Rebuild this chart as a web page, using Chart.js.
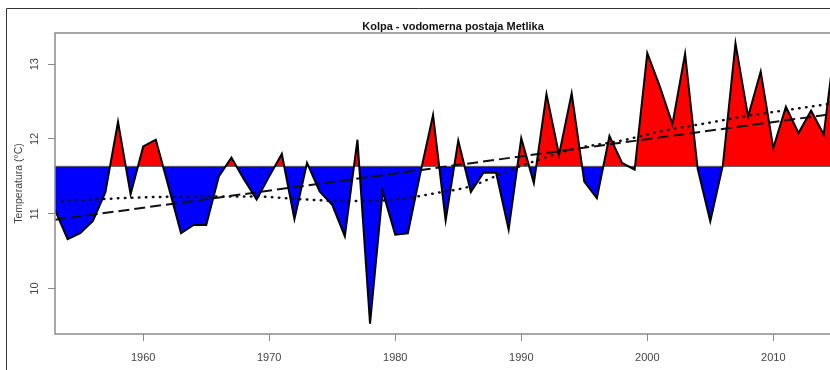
<!DOCTYPE html>
<html>
<head>
<meta charset="utf-8">
<script src="https://cdn.jsdelivr.net/npm/chart.js@4.4.1/dist/chart.umd.min.js"></script>
<style>
html,body{margin:0;padding:0;background:#fff;overflow:hidden;}
#wrap{width:830px;height:370px;position:relative;}
</style>
</head>
<body>
<div id="wrap"><canvas id="c" width="830" height="370"></canvas></div>
<script>
// ---- data ----
const years = [1953,1954,1955,1956,1957,1958,1959,1960,1961,1962,1963,1964,1965,1966,1967,1968,1969,1970,
  1971,1972,1973,1974,1975,1976,1977,1978,1979,1980,1981,1982,1983,1984,1985,1986,1987,1988,1989,1990,
  1991,1992,1993,1994,1995,1996,1997,1998,1999,2000,2001,2002,2003,2004,2005,2006,2007,2008,2009,2010,
  2011,2012,2013,2014,2015];
const temps = [11.05,10.66,10.74,10.90,11.29,12.23,11.26,11.90,11.99,11.37,10.74,10.85,10.85,11.50,11.75,11.46,11.19,11.50,
  11.80,10.93,11.68,11.30,11.12,10.70,11.99,9.53,11.30,10.72,10.74,11.55,12.32,10.91,11.98,11.29,11.55,11.55,10.79,12.01,
  11.41,12.60,11.79,12.61,11.43,11.21,12.04,11.68,11.59,13.15,12.70,12.20,13.14,11.60,10.90,11.65,13.28,12.30,12.90,11.88,
  12.43,12.08,12.38,12.06,13.40];
const baseline = 11.634;
const linTrendYears = [1953, 2014.5];
const linTrendValues = [10.92, 12.33];
const smoothYears = [1953,1956,1960,1965,1969,1972,1976,1980,1983,1986,1989,1991,1994,1998,2001,2005,2008,2012,2014.5];
const smoothValues = [11.16,11.19,11.22,11.23,11.23,11.20,11.17,11.19,11.27,11.37,11.58,11.70,11.86,11.98,12.10,12.22,12.31,12.41,12.47];
const xTicks = [1960,1970,1980,1990,2000,2010];
const yTicks = [10,11,12,13];
const titleText = 'Kolpa - vodomerna postaja Metlika';
const yLabel = 'Temperatura (°C)';
const xMin = 1953, xMax = 2014.5, yMin = 9.393, yMax = 13.417;

const pts = (xs, ys) => xs.map((x, i) => ({x: x, y: ys[i]}));

const framePlugin = {
  id: 'frame',
  beforeDraw(chart) {
    const ctx = chart.ctx;
    ctx.save();
    ctx.fillStyle = '#fff';
    ctx.fillRect(0, 0, chart.width, chart.height);
    ctx.strokeStyle = '#333';
    ctx.lineWidth = 1;
    ctx.beginPath();
    ctx.moveTo(6.5, 370);
    ctx.lineTo(6.5, 8.5);
    ctx.lineTo(830, 8.5);
    ctx.stroke();
    ctx.restore();
  },
  afterDraw(chart) {
    const ctx = chart.ctx, a = chart.chartArea;
    ctx.save();
    ctx.strokeStyle = '#8a8a8a';
    ctx.lineWidth = 1.5;
    ctx.strokeRect(a.left, a.top, a.right - a.left + 4, a.bottom - a.top);
    ctx.fillStyle = '#111';
    ctx.font = 'bold 11px "Liberation Sans", Arial, sans-serif';
    ctx.textAlign = 'center';
    ctx.textBaseline = 'alphabetic';
    ctx.fillText(titleText, 453, 30);
    ctx.restore();
  }
};

new Chart(document.getElementById('c'), {
  type: 'line',
  data: {
    datasets: [
      {
        label: 'temp',
        data: pts(years, temps),
        borderColor: '#000',
        borderWidth: 2,
        pointRadius: 0,
        tension: 0,
        fill: {target: {value: baseline}, above: 'rgb(255,0,0)', below: 'rgb(0,0,255)'},
        order: 0
      },
      {
        label: 'base',
        data: pts([xMin, xMax + 2], [baseline, baseline]),
        borderColor: '#555',
        borderWidth: 1,
        pointRadius: 0,
        fill: false,
        order: 3
      },
      {
        label: 'linear',
        data: pts(linTrendYears, linTrendValues),
        borderColor: '#111',
        borderWidth: 2,
        borderDash: [11, 5],
        pointRadius: 0,
        fill: false,
        order: 2
      },
      {
        label: 'smooth',
        data: pts(smoothYears, smoothValues),
        borderColor: '#111',
        borderWidth: 2.5,
        borderDash: [0.5, 6.5],
        borderCapStyle: 'round',
        cubicInterpolationMode: 'monotone',
        pointRadius: 0,
        fill: false,
        order: 1
      }
    ]
  },
  options: {
    responsive: false,
    animation: false,
    layout: {padding: {top: 33, left: 0, right: 0, bottom: 0}},
    plugins: {
      legend: {display: false},
      tooltip: {enabled: false},
      title: {display: false},
      filler: {drawTime: 'beforeDatasetsDraw'}
    },
    scales: {
      x: {
        type: 'linear',
        min: xMin, max: xMax,
        afterBuildTicks: s => { s.ticks = xTicks.map(v => ({value: v})); },
        afterFit: s => { s.height = 36; },
        ticks: {
          callback: v => String(v),
          color: '#444',
          font: {family: '"Liberation Sans", Arial, sans-serif', size: 11},
          padding: 10,
          maxRotation: 0, minRotation: 0,
          autoSkip: false
        },
        grid: {drawOnChartArea: false, drawTicks: true, tickLength: 7, color: '#888', lineWidth: 1},
        border: {display: false}
      },
      y: {
        type: 'linear',
        min: yMin, max: yMax,
        afterBuildTicks: s => { s.ticks = yTicks.map(v => ({value: v})); },
        afterFit: s => { s.width = 55; },
        ticks: {
          callback: v => String(v),
          color: '#444',
          font: {family: '"Liberation Sans", Arial, sans-serif', size: 11},
          minRotation: 90, maxRotation: 90,
          crossAlign: 'center',
          padding: 7,
          autoSkip: false
        },
        title: {
          display: true,
          text: yLabel,
          color: '#444',
          font: {family: '"Liberation Sans", Arial, sans-serif', size: 10.5},
          padding: {top: 13, bottom: 0}
        },
        grid: {drawOnChartArea: false, drawTicks: true, tickLength: 7, color: '#888', lineWidth: 1},
        border: {display: false}
      }
    }
  },
  plugins: [framePlugin]
});
</script>
</body>
</html>
